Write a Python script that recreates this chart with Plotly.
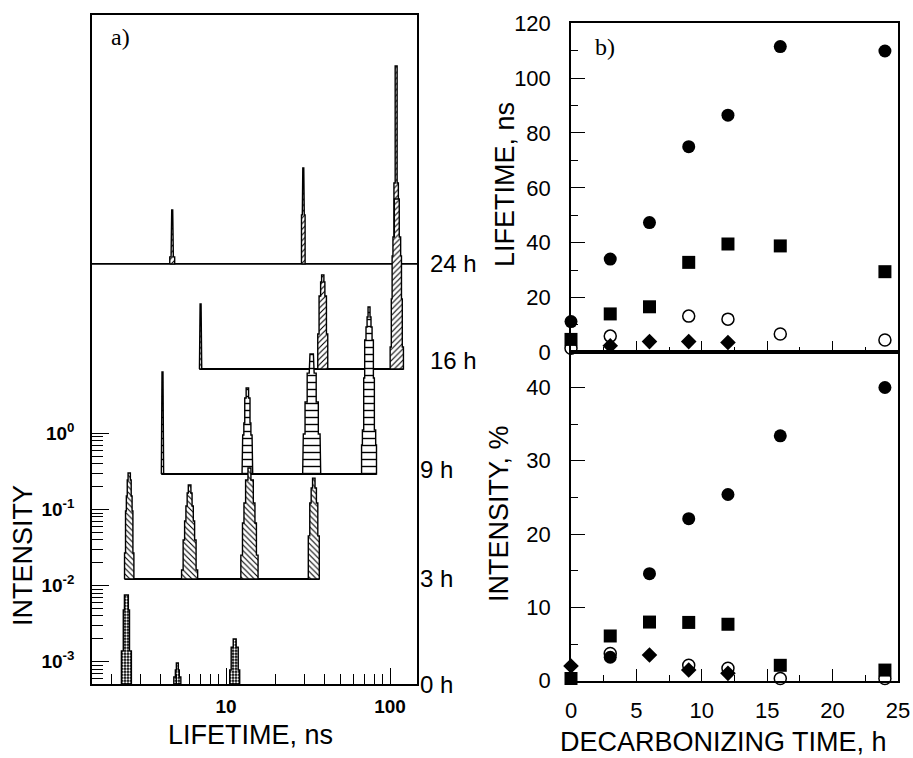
import plotly.graph_objects as go

# ---------------- panel a) : lifetime distributions ----------------
ROW_LABELS = ["0 h", "3 h", "9 h", "16 h", "24 h"]
# each peak: (centre lifetime in ns, [(layer full width in decades of lifetime, intensity), bottom -> top])
PEAKS_0H = [
    (2.47, [(0.061, 1.39e-3), (0.038, 4.79e-3), (0.024, 7.55e-3)]),
    (5.05, [(0.043, 6.31e-4), (0.024, 7.80e-4), (0.012, 9.64e-4)]),
    (11.3, [(0.061, 7.80e-4), (0.043, 1.56e-3), (0.018, 1.99e-3)]),
]
PEAKS_3H = [
    (2.57, [(0.057, 1.12e-3), (0.045, 4.00e-3), (0.035, 6.29e-3), (0.024, 1.02e-2), (0.014, 1.26e-2)]),
    (6.0, [(0.098, 6.70e-4), (0.079, 1.66e-3), (0.061, 2.95e-3), (0.045, 4.65e-3), (0.030, 6.89e-3), (0.016, 8.78e-3)]),
    (13.9, [(0.105, 1.05e-3), (0.085, 2.78e-3), (0.067, 5.09e-3), (0.047, 1.02e-2), (0.018, 1.47e-2)]),
    (34.3, [(0.067, 1.88e-3), (0.049, 5.09e-3), (0.032, 8.02e-3), (0.015, 1.08e-2)]),
]
PEAKS_9H = [
    (4.1, [(0.014, 5.57e-3), (0.006, 1.12e-2)]),
    (13.5, [(0.065, 7.80e-4), (0.057, 1.66e-3), (0.043, 2.39e-3), (0.032, 5.09e-3), (0.015, 6.89e-3)]),
    (33.3, [(0.110, 6.12e-4), (0.102, 1.71e-3), (0.081, 4.51e-3), (0.055, 1.08e-2), (0.030, 1.51e-2), (0.021, 1.93e-2)]),
    (74.5, [(0.091, 1.23e-3), (0.081, 1.93e-3), (0.065, 9.33e-3), (0.053, 2.94e-2), (0.037, 4.36e-2),
            (0.024, 5.90e-2), (0.012, 7.98e-2)]),
]
PEAKS_16H = [
    (7.0, [(0.014, 2.46e-3), (0.006, 3.65e-3)]),
    (38.9, [(0.061, 1.47e-3), (0.045, 4.65e-3), (0.026, 7.10e-3), (0.014, 8.78e-3)]),
    (110.0, [(0.081, 9.93e-4), (0.067, 4.25e-3), (0.057, 1.56e-2), (0.047, 2.77e-2), (0.030, 8.75e-2)]),
]
PEAKS_24H = [
    (4.7, [(0.030, 6.31e-4), (0.014, 1.99e-3), (0.006, 2.62e-3)]),
    (29.6, [(0.022, 2.25e-3), (0.012, 5.25e-3), (0.006, 9.33e-3)]),
    (109.0, [(0.027, 5.92e-3), (0.012, 0.204)]),
]
ROW_PEAKS = [PEAKS_0H, PEAKS_3H, PEAKS_9H, PEAKS_16H, PEAKS_24H]
Y_TICKS_A = [1e-3, 1e-2, 1e-1, 1.0]
Y_TICKTEXT_A = ["<b>10<sup>-3</sup></b>", "<b>10<sup>-2</sup></b>", "<b>10<sup>-1</sup></b>", "<b>10<sup>0</sup></b>"]
X_TICKS_A = [10, 100]
X_TICKTEXT_A = ["<b>10</b>", "<b>100</b>"]

# ---------------- panel b) ----------------
TIME_H = [0, 3, 6, 9, 12, 16, 24]
TAU_CIRCLE = [11.2, 34.0, 47.3, 75.0, 86.5, 111.5, 109.9]
TAU_SQUARE = [4.7, 14.0, 16.6, 32.8, 39.5, 38.8, 29.4]
TAU_OPEN = [1.5, 5.9, None, 13.2, 12.1, 6.7, 4.5]
TAU_DIAMOND = [None, 2.4, 3.9, 3.9, 3.6, None, None]
INT_CIRCLE = [None, 3.2, 14.6, 22.1, 25.4, 33.4, 40.0]
INT_SQUARE = [0.3, 6.1, 8.0, 7.95, 7.7, 2.1, 1.45]
INT_OPEN = [None, 3.7, None, 2.1, 1.7, 0.3, 0.3]
INT_DIAMOND = [2.0, None, 3.5, 1.45, 1.0, None, None]

# ---------------- layout geometry ----------------
W, H = 913, 758
FONT = "Liberation Sans, Arial, sans-serif"
SERIF = "Liberation Serif, Times New Roman, serif"
X_RANGE_A = [0.183, 2.1646]     # log10 ns
Y_RANGE_A = [-3.292, 5.499]     # log10 intensity
ROW_SHIFT = 1.38                # decades between successive rows
BASE = 10 ** Y_RANGE_A[0]


def px(xp):
    return xp / W


def py(yp):
    return 1 - yp / H


DOM_XA = [px(92), px(417)]
DOM_YA = [py(684), py(15)]
DOM_XB = [px(571), px(898)]
DOM_YB_UP = [py(352.3), py(23.3)]
DOM_YB_LO = [py(680.7), py(352.3)]

PATTERNS = [
    dict(shape=".", fgcolor="white", bgcolor="black", size=3, solidity=0.45, fillmode="replace"),
    dict(shape="\\", fgcolor="black", bgcolor="white", size=4, solidity=0.28, fillmode="replace"),
    dict(shape="-", fgcolor="black", bgcolor="white", size=7, solidity=0.2, fillmode="replace"),
    dict(shape="/", fgcolor="black", bgcolor="white", size=4, solidity=0.28, fillmode="replace"),
    dict(shape="/", fgcolor="black", bgcolor="white", size=4, solidity=0.28, fillmode="replace"),
]

fig = go.Figure()


def outline(center, layers, shift):
    base = BASE * shift
    left, right = [], []
    y_prev = base
    for w, inten in layers:
        xl = center * 10 ** (-w / 2)
        xr = center * 10 ** (w / 2)
        left += [(xl, y_prev), (xl, inten * shift)]
        right += [(xr, y_prev), (xr, inten * shift)]
        y_prev = inten * shift
    pts = left + right[::-1]
    pts.append(pts[0])
    return [p[0] for p in pts], [p[1] for p in pts]


# draw back rows first (24 h) so front rows cover them
for k in range(len(ROW_PEAKS) - 1, -1, -1):
    shift = 10 ** (ROW_SHIFT * k)
    peaks = ROW_PEAKS[k]
    base = BASE * shift
    if k == len(ROW_PEAKS) - 1:
        fig.add_trace(go.Scatter(x=[10 ** X_RANGE_A[0], 10 ** X_RANGE_A[1]], y=[base, base], mode="lines",
                                 line=dict(color="black", width=1.8), xaxis="x", yaxis="y",
                                 showlegend=False, hoverinfo="skip"))
    elif k > 0:
        x_lo = peaks[0][0] * 10 ** (-peaks[0][1][0][0] / 2)
        x_hi = peaks[-1][0] * 10 ** (peaks[-1][1][0][0] / 2)
        fig.add_trace(go.Scatter(x=[x_lo, x_hi], y=[base, base], mode="lines",
                                 line=dict(color="black", width=2), xaxis="x", yaxis="y",
                                 showlegend=False, hoverinfo="skip"))
    for center, layers in peaks:
        xs, ys = outline(center, layers, shift)
        fig.add_trace(go.Scatter(x=xs, y=ys, mode="lines", fill="toself",
                                 fillpattern=PATTERNS[k], fillcolor="white",
                                 line=dict(color="black", width=1.4), xaxis="x", yaxis="y",
                                 showlegend=False, hoverinfo="skip"))

# ---------------- panel b traces ----------------
SERIES = [
    (TAU_OPEN, INT_OPEN, dict(symbol="circle-open", size=12, color="black", line=dict(width=1.5, color="black"))),
    (TAU_DIAMOND, INT_DIAMOND, dict(symbol="diamond", size=12, color="black")),
    (TAU_SQUARE, INT_SQUARE, dict(symbol="square", size=13, color="black")),
    (TAU_CIRCLE, INT_CIRCLE, dict(symbol="circle", size=13, color="black")),
]
for tau, inten, mk in SERIES:
    fig.add_trace(go.Scatter(x=TIME_H, y=tau, mode="markers", marker=mk, xaxis="x2", yaxis="y2",
                             cliponaxis=False, showlegend=False))
    fig.add_trace(go.Scatter(x=TIME_H, y=inten, mode="markers", marker=mk, xaxis="x3", yaxis="y3",
                             cliponaxis=False, showlegend=False))

# ---------------- axes ----------------
common = dict(showline=True, linecolor="black", linewidth=1.5, mirror=True, showgrid=False,
              zeroline=False, ticks="inside", tickcolor="black", tickwidth=1.3, automargin=False)

x_minor_a = [m * 10.0 ** e for e in range(0, 2) for m in range(2, 10)
             if 10 ** X_RANGE_A[0] < m * 10.0 ** e < 10 ** X_RANGE_A[1]]
y_minor_a = [m * 10.0 ** e for e in range(-4, 0) for m in range(2, 10) if m * 10.0 ** e > BASE]

fig.update_layout(
    template="none",
    width=W, height=H, margin=dict(l=0, r=0, t=0, b=0, autoexpand=False),
    paper_bgcolor="white", plot_bgcolor="white", showlegend=False,
    font=dict(family=FONT, color="black"),
    xaxis=dict(common, type="log", range=X_RANGE_A, domain=DOM_XA, anchor="y",
               tickmode="array", tickvals=X_TICKS_A, ticktext=X_TICKTEXT_A, ticklen=16,
               tickfont=dict(size=19, family=FONT), ticklabelstandoff=4,
               minor=dict(tickvals=x_minor_a, ticks="inside", ticklen=10, tickwidth=1.3, tickcolor="black")),
    yaxis=dict(common, type="log", range=Y_RANGE_A, domain=DOM_YA, anchor="x",
               tickmode="array", tickvals=Y_TICKS_A, ticktext=Y_TICKTEXT_A, ticklen=17,
               tickfont=dict(size=19, family=FONT), ticklabelstandoff=12,
               minor=dict(tickvals=y_minor_a, ticks="inside", ticklen=11, tickwidth=1.3, tickcolor="black")),
    xaxis2=dict(common, range=[0, 25], domain=DOM_XB, anchor="y2", showticklabels=False,
                tickmode="array", tickvals=[0, 5, 10, 15, 20, 25], ticklen=12,
                minor=dict(tickvals=[2.5, 7.5, 12.5, 17.5, 22.5], ticks="inside", ticklen=6,
                           tickwidth=1.3, tickcolor="black")),
    yaxis2=dict(common, range=[0, 120], domain=DOM_YB_UP, anchor="x2",
                tickmode="array", tickvals=[0, 20, 40, 60, 80, 100, 120], ticklen=14,
                tickfont=dict(size=22), ticklabelstandoff=14,
                minor=dict(tickvals=[10, 30, 50, 70, 90, 110], ticks="inside", ticklen=7,
                           tickwidth=1.3, tickcolor="black")),
    xaxis3=dict(common, range=[0, 25], domain=DOM_XB, anchor="y3",
                tickmode="array", tickvals=[0, 5, 10, 15, 20, 25], ticklen=12,
                tickfont=dict(size=22), ticklabelstandoff=9,
                minor=dict(tickvals=[2.5, 7.5, 12.5, 17.5, 22.5], ticks="inside", ticklen=6,
                           tickwidth=1.3, tickcolor="black")),
    yaxis3=dict(common, range=[0, 44.8], domain=DOM_YB_LO, anchor="x3",
                tickmode="array", tickvals=[0, 10, 20, 30, 40], ticklen=14,
                tickfont=dict(size=22), ticklabelstandoff=14,
                minor=dict(tickvals=[5, 15, 25, 35], ticks="inside", ticklen=7,
                           tickwidth=1.3, tickcolor="black")),
)

# ---------------- text ----------------
ann = []


def text(s, x, y, size, angle=0, family=FONT, xanchor="center", yshift=0):
    ann.append(dict(text=s, x=x, y=y, xref="paper", yref="paper", showarrow=False,
                    xanchor=xanchor, yanchor="middle", textangle=angle, yshift=yshift,
                    font=dict(size=size, family=family, color="black")))


text("a)", px(120), py(37), 24, family=SERIF)
text("b)", px(605), py(47), 24, family=SERIF)
text("INTENSITY", px(23), py(556), 27, angle=-90)
text("LIFETIME, ns", px(250), py(735), 27)
text("LIFETIME, ns", px(505), py(185), 27, angle=-90)
text("INTENSITY, %", px(499), py(514), 27, angle=-90)
text("DECARBONIZING TIME, h", px(723), py(742), 27)

LABEL_YSHIFT = [0, 0, 4, 8, 0]
for k, lab in enumerate(ROW_LABELS):
    base_log = Y_RANGE_A[0] + ROW_SHIFT * k
    frac = (base_log - Y_RANGE_A[0]) / (Y_RANGE_A[1] - Y_RANGE_A[0])
    ypos = DOM_YA[0] + frac * (DOM_YA[1] - DOM_YA[0])
    xl = 428 if len(lab) > 3 else 418
    text(lab, px(xl), ypos, 24, xanchor="left", yshift=LABEL_YSHIFT[k])

fig.update_layout(annotations=ann)
fig.write_html("out.html", config={"displayModeBar": False},
               post_script="document.body.style.margin='0';document.body.style.padding='0';"
                           "document.body.style.overflow='hidden';")
